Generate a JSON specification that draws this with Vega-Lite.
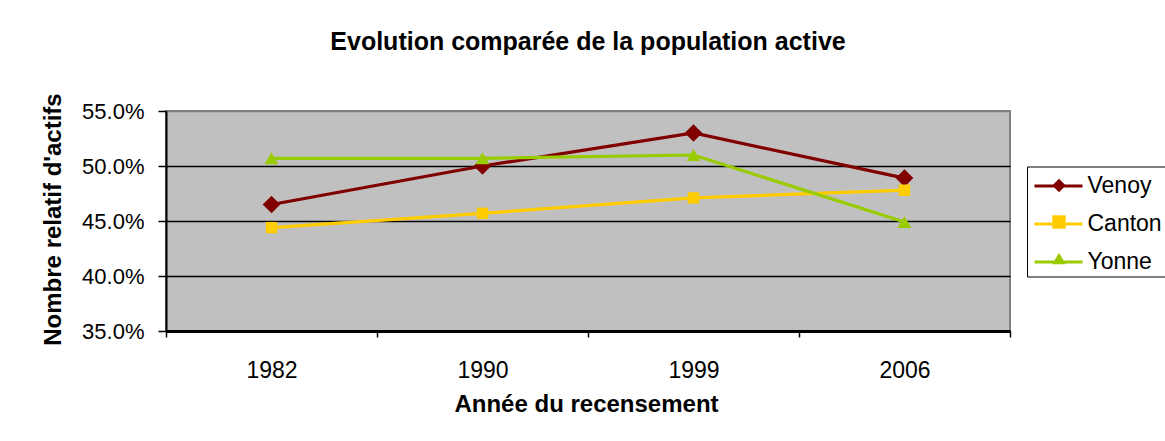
{
  "$schema": "https://vega.github.io/schema/vega-lite/v6.json",
  "width": 844,
  "height": 220,
  "autosize": {"type": "none"},
  "padding": {"left": 166, "top": 111, "right": 155, "bottom": 110},
  "background": "white",
  "config": {
    "font": "Liberation Sans",
    "view": {"fill": "#C0C0C0", "stroke": "#808080", "strokeWidth": 2}
  },
  "title": {
    "text": "Evolution comparée de la population active",
    "fontSize": 25,
    "fontWeight": "bold",
    "color": "black",
    "anchor": "middle",
    "frame": "group",
    "offset": 38
  },
  "data": {
    "values": [
      {"annee": "1982", "serie": "Venoy", "valeur": 0.465},
      {"annee": "1990", "serie": "Venoy", "valeur": 0.500},
      {"annee": "1999", "serie": "Venoy", "valeur": 0.530},
      {"annee": "2006", "serie": "Venoy", "valeur": 0.489},
      {"annee": "1982", "serie": "Canton", "valeur": 0.444},
      {"annee": "1990", "serie": "Canton", "valeur": 0.457},
      {"annee": "1999", "serie": "Canton", "valeur": 0.471},
      {"annee": "2006", "serie": "Canton", "valeur": 0.478},
      {"annee": "1982", "serie": "Yonne", "valeur": 0.507},
      {"annee": "1990", "serie": "Yonne", "valeur": 0.507},
      {"annee": "1999", "serie": "Yonne", "valeur": 0.510},
      {"annee": "2006", "serie": "Yonne", "valeur": 0.449}
    ]
  },
  "encoding": {
    "x": {
      "field": "annee",
      "type": "ordinal",
      "sort": ["1982", "1990", "1999", "2006"],
      "scale": {"type": "band", "paddingInner": 0, "paddingOuter": 0},
      "axis": {
        "title": "Année du recensement",
        "tickBand": "extent",
        "labelAngle": 0,
        "labelFontSize": 23,
        "labelColor": "black",
        "labelBaseline": "alphabetic",
        "labelPadding": 40,
        "tickSize": 6,
        "tickColor": "black",
        "tickWidth": 1.5,
        "domainColor": "black",
        "domainWidth": 3,
        "grid": false,
        "titleFontSize": 24,
        "titleFontWeight": "bold",
        "titleColor": "black",
        "titleX": 420,
        "titleY": 80,
        "titleBaseline": "alphabetic"
      }
    },
    "y": {
      "field": "valeur",
      "type": "quantitative",
      "scale": {"domain": [0.35, 0.55], "nice": false, "zero": false},
      "axis": {
        "title": "Nombre relatif d'actifs",
        "format": ".1%",
        "values": [0.35, 0.4, 0.45, 0.5, 0.55],
        "labelFontSize": 22,
        "labelColor": "black",
        "labelPadding": 14,
        "tickSize": 8,
        "tickColor": "black",
        "tickWidth": 1.5,
        "domainColor": "black",
        "domainWidth": 2,
        "grid": true,
        "gridColor": {"condition": {"test": "datum.value >= 0.549", "value": "#808080"}, "value": "black"},
        "gridWidth": 1.5,
        "titleFontSize": 24,
        "titleFontWeight": "bold",
        "titleColor": "black",
        "titleX": -106,
        "titleY": 108,
        "titleAngle": 270,
        "titleAlign": "center",
        "titleBaseline": "alphabetic"
      }
    }
  },
  "layer": [
    {
      "mark": {"type": "line", "strokeWidth": 3.2},
      "encoding": {
        "stroke": {
          "field": "serie",
          "type": "nominal",
          "scale": {"domain": ["Venoy", "Canton", "Yonne"], "range": ["#800000", "#FFCC00", "#99CC00"]},
          "legend": {
            "title": null, "orient": "none", "legendX": 867, "legendY": 49.5,
            "symbolType": "stroke", "symbolSize": 2304, "symbolStrokeWidth": 3, "symbolOpacity": 1,
            "labelFontSize": 23, "labelColor": "black", "labelOffset": 3.5,
            "padding": 0, "rowPadding": -16.5
          }
        }
      }
    },
    {
      "mark": {"type": "point", "filled": true, "opacity": 1, "size": 1},
      "encoding": {
        "fill": {
          "field": "serie",
          "type": "nominal",
          "scale": {"domain": ["Venoy", "Canton", "Yonne", "_"], "range": ["#800000", "#FFCC00", "#99CC00", "#000000"]},
          "legend": {
            "title": null, "orient": "none", "legendX": 861, "legendY": 55.5,
            "values": ["Venoy", "Canton", "Yonne"],
            "symbolSize": 180, "symbolStrokeWidth": 0, "symbolOpacity": 1, "symbolOffset": 13,
            "labelExpr": "''", "labelFontSize": 1, "labelOffset": 98,
            "padding": 12, "rowPadding": 22.5, "strokeColor": "black"
          }
        },
        "shape": {
          "field": "serie",
          "type": "nominal",
          "scale": {"domain": ["Venoy", "Canton", "Yonne", "_"], "range": ["diamond", "square", "triangle-up", "circle"]},
          "legend": {
            "title": null, "orient": "none", "legendX": 861, "legendY": 55.5,
            "values": ["Venoy", "Canton", "Yonne"],
            "symbolSize": 180, "symbolStrokeWidth": 0, "symbolOpacity": 1, "symbolOffset": 13,
            "labelExpr": "''", "labelFontSize": 1, "labelOffset": 98,
            "padding": 12, "rowPadding": 22.5, "strokeColor": "black"
          }
        }
      }
    },
    {
      "transform": [{"filter": "datum.serie === 'Venoy'"}],
      "mark": {"type": "point", "filled": true, "opacity": 1, "shape": "diamond", "size": 310, "color": "#800000"}
    },
    {
      "transform": [{"filter": "datum.serie === 'Canton'"}],
      "mark": {"type": "point", "filled": true, "opacity": 1, "shape": "square", "size": 130, "color": "#FFCC00"}
    },
    {
      "transform": [{"filter": "datum.serie === 'Yonne'"}],
      "mark": {"type": "point", "filled": true, "opacity": 1, "shape": "triangle-up", "size": 190, "color": "#99CC00"}
    }
  ]
}
